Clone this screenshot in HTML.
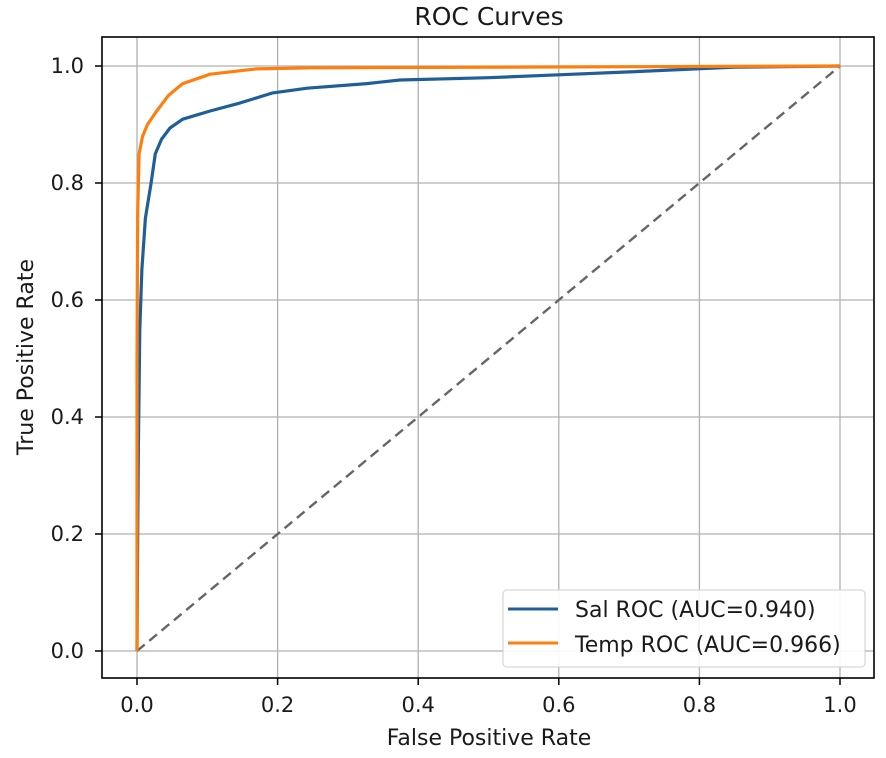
<!DOCTYPE html>
<html><head><meta charset="utf-8"><style>
body{margin:0;background:#fff;}
svg text{font-family:"DejaVu Sans","Liberation Sans",sans-serif;fill:#1a1a1a;}
</style></head><body>
<svg width="886" height="753" id="c">
<rect x="0" y="0" width="886" height="753" fill="#fff"/>
<text x="489" y="25" font-size="25" text-anchor="middle">ROC Curves</text>
<g id="grid"></g><g id="marks"></g>
<rect x="102" y="37" width="772" height="641" fill="none" stroke="#000" stroke-width="1.6"/>
<g id="ticks"></g>
<text x="489" y="745" font-size="22" text-anchor="middle">False Positive Rate</text>
<text x="33" y="357" font-size="22" text-anchor="middle" transform="rotate(-90 33 357)">True Positive Rate</text>
<g>
<rect x="503" y="590" width="362" height="77" rx="4" fill="#fff" fill-opacity="0.9" stroke="#ccc"/>
<line x1="508" y1="609" x2="558" y2="609" stroke="#1f5f99" stroke-width="3"/>
<text x="575" y="617" font-size="22">Sal ROC (AUC=0.940)</text>
<line x1="508" y1="643" x2="558" y2="643" stroke="#ff7f0e" stroke-width="3"/>
<text x="575" y="652" font-size="22">Temp ROC (AUC=0.966)</text>
</g>
</svg>
<script>
const tickVals=[0,0.2,0.4,0.6,0.8,1.0];
const tickLabels=["0.0","0.2","0.4","0.6","0.8","1.0"];
const salFpr=[0,0.001,0.002,0.004,0.007,0.012,0.02,0.026,0.035,0.047,0.065,0.104,0.147,0.193,0.242,0.327,0.374,0.5,0.6,0.7,0.85,1.0];
const salTpr=[0,0.2,0.35,0.55,0.653,0.74,0.80,0.85,0.875,0.894,0.909,0.923,0.937,0.954,0.962,0.97,0.976,0.98,0.985,0.99,0.998,1.0];
const tempFpr=[0,0,0.001,0.003,0.008,0.015,0.028,0.045,0.065,0.104,0.17,0.25,1.0];
const tempTpr=[0,0.5,0.75,0.85,0.88,0.90,0.923,0.95,0.97,0.986,0.995,0.997,1.0];
const X=v=>137+v*703, Y=v=>651-v*585;
const NS="http://www.w3.org/2000/svg";
const grid=document.getElementById('grid'),ticks=document.getElementById('ticks'),marks=document.getElementById('marks');
function mk(tag,attrs,parent){const e=document.createElementNS(NS,tag);for(const k in attrs)e.setAttribute(k,attrs[k]);parent.appendChild(e);return e;}
tickVals.forEach((v,i)=>{
 const gx=mk('line',{x1:X(v),x2:X(v),y1:37,y2:678,stroke:'#b0b0b0','stroke-width':1.3},grid);
 
 
 const gy=mk('line',{x1:102,x2:874,y1:Y(v),y2:Y(v),stroke:'#b0b0b0','stroke-width':1.3},grid);
 
 
 mk('line',{x1:X(v),x2:X(v),y1:678,y2:685,stroke:'#000','stroke-width':1.5},ticks);
 mk('line',{x1:95,x2:102,y1:Y(v),y2:Y(v),stroke:'#000','stroke-width':1.5},ticks);
 const tx=mk('text',{x:X(v),y:712,'font-size':21,'text-anchor':'middle'},ticks);tx.textContent=tickLabels[i];
 
 
 const ty=mk('text',{x:84,y:Y(v)+7,'font-size':21,'text-anchor':'end'},ticks);ty.textContent=tickLabels[i];
 
 
});
const diag=mk('line',{x1:X(0),y1:Y(0),x2:X(1),y2:Y(1),stroke:'#666','stroke-width':2.4,'stroke-dasharray':'10,6'},marks);


function pts(xs,ys){return xs.map((x,i)=>X(x).toFixed(1)+','+Y(ys[i]).toFixed(1)).join(' ');}
const sal=mk('polyline',{points:pts(salFpr,salTpr),fill:'none',stroke:'#1f5f99','stroke-width':3.2,'stroke-linejoin':'round'},marks);


const tmp=mk('polyline',{points:pts(tempFpr,tempTpr),fill:'none',stroke:'#ff7f0e','stroke-width':3.2,'stroke-linejoin':'round'},marks);


</script>
</body></html>
